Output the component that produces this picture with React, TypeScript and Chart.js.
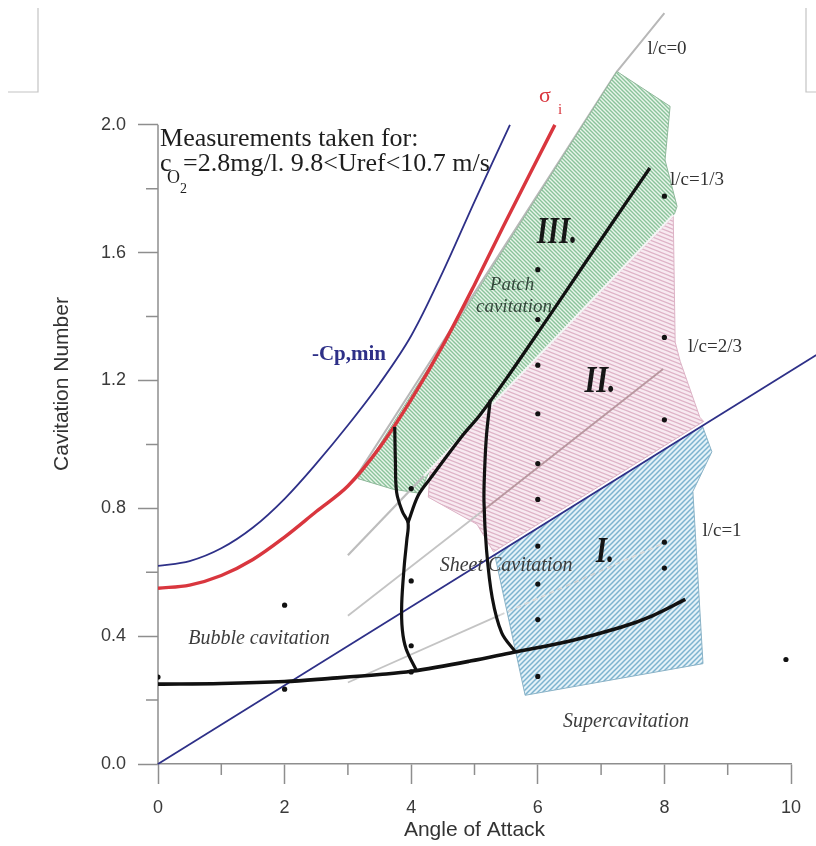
import React, { useEffect, useRef } from 'react';
import { Chart, registerables } from 'chart.js';

Chart.register(...registerables);

// ---------- axes ----------
const X_TICKS = [0, 2, 4, 6, 8, 10];
const X_MINOR = [1, 3, 5, 7, 9];
const Y_TICKS = [0, 0.4, 0.8, 1.2, 1.6, 2.0];
const Y_MINOR = [0.2, 0.6, 1.0, 1.4, 1.8];

// ---------- measured points ----------
const DOT_X = [0, 2, 2, 4, 4, 4, 4, 6, 6, 6, 6, 6, 6, 6, 6, 6, 6, 8, 8, 8, 8, 8, 9.92];
const DOT_Y = [0.272, 0.497, 0.234, 0.862, 0.573, 0.37, 0.288, 1.547, 1.391, 1.248, 1.096, 0.94, 0.828, 0.682, 0.563, 0.452, 0.274, 1.777, 1.335, 1.077, 0.694, 0.613, 0.327];

// -Cp,min curve
const CP_X = [0, 0.5, 1.0, 1.5, 2.0, 2.5, 3.0, 3.5, 4.0, 4.5, 5.0, 5.56];
const CP_Y = [0.62, 0.635, 0.675, 0.74, 0.83, 0.94, 1.06, 1.19, 1.34, 1.54, 1.76, 2.0];

// sigma_i curve
const SIG_X = [0, 0.5, 1.0, 1.5, 2.0, 2.5, 3.0, 3.5, 4.0, 4.5, 5.0, 5.5, 6.27];
const SIG_Y = [0.55, 0.56, 0.59, 0.64, 0.71, 0.79, 0.87, 0.99, 1.14, 1.31, 1.5, 1.7, 2.0];

// straight line from the origin
const ORIG_X = [0, 10.4];
const ORIG_Y = [0, 1.28];

// regime boundaries (black)
const LOW_X = [0, 1, 2, 2.72, 3.5, 4.0, 4.93, 5.62, 6.51, 7.3, 7.8, 8.33];
const LOW_Y = [0.25, 0.252, 0.258, 0.268, 0.28, 0.29, 0.322, 0.35, 0.385, 0.427, 0.463, 0.515];
const LEFT_X = [3.74, 3.75, 3.77, 3.86, 3.95, 3.93, 3.89, 3.85, 3.86, 3.92, 4.09];
const LEFT_Y = [1.055, 0.95, 0.85, 0.79, 0.755, 0.70, 0.62, 0.50, 0.42, 0.36, 0.29];
const DIAG_X = [3.95, 4.11, 4.30, 4.82, 5.09, 5.5, 6.14, 6.67, 7.2, 7.77];
const DIAG_Y = [0.755, 0.84, 0.893, 1.03, 1.093, 1.205, 1.39, 1.545, 1.70, 1.865];
const RIGHT_X = [5.25, 5.19, 5.16, 5.15, 5.19, 5.28, 5.43, 5.64];
const RIGHT_Y = [1.14, 1.03, 0.92, 0.82, 0.67, 0.52, 0.41, 0.352];

// l/c lines
const LC0_X = [3.1, 7.25, 8.0];
const LC0_Y = [0.89, 2.167, 2.35];
const LC13_X = [3.0, 4.2, 8.14];
const LC13_Y = [0.653, 0.901, 1.718];
const LC23_X = [3.0, 5.1, 7.98];
const LC23_Y = [0.464, 0.788, 1.236];
const LC1_X = [3.0, 5.4, 7.98];
const LC1_Y = [0.255, 0.466, 0.69];

// regions
const GREEN_X = [3.16, 7.25, 8.09, 8.01, 8.2, 8.16, 4.3, 4.14, 3.71];
const GREEN_Y = [0.893, 2.167, 2.058, 1.89, 1.745, 1.722, 0.923, 0.847, 0.86];
const PINK_X = [8.14, 8.17, 8.25, 8.56, 8.62, 5.3, 5.04, 4.27, 4.3];
const PINK_Y = [1.714, 1.32, 1.26, 1.085, 1.072, 0.664, 0.75, 0.835, 0.92];
const BLUE_X = [5.32, 8.6, 8.75, 8.45, 8.61, 5.8];
const BLUE_Y = [0.654, 1.058, 0.977, 0.853, 0.314, 0.215];

// ---------- text ----------
const LABELS = [
  { text: '-Cp,min', x: 3.017, y: 1.2825, font: 'bold 21px "Liberation Serif", serif', color: '#2e3088', sx: 1 },
  { text: 'III.', x: 6.303, y: 1.662, font: 'italic bold 38px "Liberation Serif", serif', color: '#161616', sx: 0.75 },
  { text: 'II.', x: 6.983, y: 1.195, font: 'italic bold 38px "Liberation Serif", serif', color: '#161616', sx: 0.8 },
  { text: 'I.', x: 7.062, y: 0.66, font: 'italic bold 36px "Liberation Serif", serif', color: '#161616', sx: 0.8 },
  { text: 'Patch', x: 5.592, y: 1.5, font: 'italic 19px "Liberation Serif", serif', color: '#34473b', sx: 1 },
  { text: 'cavitation', x: 5.624, y: 1.429, font: 'italic 19px "Liberation Serif", serif', color: '#34473b', sx: 1 },
  { text: 'Sheet Cavitation', x: 5.498, y: 0.619, font: 'italic 20px "Liberation Serif", serif', color: '#3c3c3c', sx: 1 },
  { text: 'Bubble cavitation', x: 1.596, y: 0.392, font: 'italic 20px "Liberation Serif", serif', color: '#3c3c3c', sx: 1 },
  { text: 'Supercavitation', x: 7.393, y: 0.131, font: 'italic 20px "Liberation Serif", serif', color: '#3c3c3c', sx: 1 },
  { text: 'l/c=0', x: 8.041, y: 2.238, font: '19px "Liberation Serif", serif', color: '#333', sx: 1 },
  { text: 'l/c=1/3', x: 8.515, y: 1.827, font: '19px "Liberation Serif", serif', color: '#333', sx: 1 },
  { text: 'l/c=2/3', x: 8.799, y: 1.304, font: '19px "Liberation Serif", serif', color: '#333', sx: 1 },
  { text: 'l/c=1', x: 8.91, y: 0.728, font: '19px "Liberation Serif", serif', color: '#333', sx: 1 },
];
const NOTE_LINE1 = 'Measurements taken for:';
const NOTE_C = 'c';
const NOTE_SUB = 'O';
const NOTE_SUBSUB = '2';
const NOTE_REST = '=2.8mg/l. 9.8<Uref<10.7 m/s';
const NOTE_POS = { x: 0.032, y1: 1.933, y2: 1.855 };
const SIGMA_LABEL = { main: 'σ', sub: 'i', x: 6.114, y: 2.089 };

const AXIS_COLOR = '#8e8e8e';
const SERIF = '"Liberation Serif", "Times New Roman", serif';
const SANS = '"Liberation Sans", Arial, sans-serif';

const zip = (xs: number[], ys: number[]) => xs.map((x, i) => ({ x, y: ys[i] }));
const closed = (xs: number[], ys: number[]) => {
  const p = zip(xs, ys);
  p.push({ ...p[0] });
  return p;
};

function hatch(bg: string, fg: string, w: number, h: number, dir: string, lw: number) {
  const c = document.createElement('canvas');
  c.width = w;
  c.height = h;
  const g = c.getContext('2d') as CanvasRenderingContext2D;
  g.fillStyle = bg;
  g.fillRect(0, 0, w, h);
  g.strokeStyle = fg;
  g.lineWidth = lw;
  g.beginPath();
  for (let k = -3; k <= 3; k++) {
    if (dir === '\\') {
      g.moveTo(-w, k * h - h);
      g.lineTo(2 * w, k * h + 2 * h);
    } else {
      g.moveTo(-w, k * h + 2 * h);
      g.lineTo(2 * w, k * h - h);
    }
  }
  g.stroke();
  return g.createPattern(c, 'repeat') as CanvasPattern;
}

const decorPlugin = {
  id: 'decor',
  beforeDatasetsDraw(chart: any) {
    const { ctx } = chart;
    const xs = chart.scales.x;
    const ys = chart.scales.y;
    const x0 = xs.getPixelForValue(0);
    const yb = ys.getPixelForValue(0);
    ctx.save();
    ctx.strokeStyle = AXIS_COLOR;
    ctx.lineWidth = 1.5;
    ctx.beginPath();
    ctx.moveTo(x0, ys.getPixelForValue(Y_TICKS[Y_TICKS.length - 1]));
    ctx.lineTo(x0, yb);
    X_MINOR.forEach((v) => {
      const p = xs.getPixelForValue(v);
      ctx.moveTo(p, yb);
      ctx.lineTo(p, yb + 11);
    });
    Y_MINOR.forEach((v) => {
      const p = ys.getPixelForValue(v);
      ctx.moveTo(x0 - 12, p);
      ctx.lineTo(x0, p);
    });
    ctx.stroke();
    // scan crop marks
    ctx.strokeStyle = '#c4c4c4';
    ctx.lineWidth = 1.2;
    const W = chart.width;
    ctx.beginPath();
    ctx.moveTo(38, 8);
    ctx.lineTo(38, 92);
    ctx.lineTo(8, 92);
    ctx.moveTo(W - 10, 8);
    ctx.lineTo(W - 10, 92);
    ctx.lineTo(W, 92);
    ctx.stroke();
    ctx.restore();
  },
  afterDatasetsDraw(chart: any) {
    const { ctx } = chart;
    const xs = chart.scales.x;
    const ys = chart.scales.y;
    ctx.save();
    ctx.textAlign = 'center';
    ctx.textBaseline = 'middle';
    LABELS.forEach((l) => {
      ctx.save();
      ctx.translate(xs.getPixelForValue(l.x), ys.getPixelForValue(l.y));
      ctx.scale(l.sx, 1);
      ctx.font = l.font;
      ctx.fillStyle = l.color;
      ctx.fillText(l.text, 0, 0);
      ctx.restore();
    });
    // note
    ctx.textAlign = 'left';
    ctx.textBaseline = 'alphabetic';
    ctx.fillStyle = '#1e1e1e';
    ctx.font = `26px ${SERIF}`;
    const nx = xs.getPixelForValue(NOTE_POS.x);
    ctx.fillText(NOTE_LINE1, nx, ys.getPixelForValue(NOTE_POS.y1));
    const b2 = ys.getPixelForValue(NOTE_POS.y2);
    ctx.fillText(NOTE_C, nx, b2);
    ctx.font = `18px ${SERIF}`;
    ctx.fillText(NOTE_SUB, nx + 7, b2 + 12);
    ctx.font = `14px ${SERIF}`;
    ctx.fillText(NOTE_SUBSUB, nx + 20, b2 + 22);
    ctx.font = `26px ${SERIF}`;
    ctx.fillText(NOTE_REST, nx + 23, b2);
    // sigma_i
    ctx.fillStyle = '#d9363e';
    ctx.textAlign = 'center';
    ctx.textBaseline = 'middle';
    const sx = xs.getPixelForValue(SIGMA_LABEL.x);
    const sy = ys.getPixelForValue(SIGMA_LABEL.y);
    ctx.font = `22px ${SERIF}`;
    ctx.fillText(SIGMA_LABEL.main, sx, sy);
    ctx.font = `15px ${SERIF}`;
    ctx.fillText(SIGMA_LABEL.sub, sx + 15, sy + 14);
    ctx.restore();
  },
};

export default function App() {
  const ref = useRef<HTMLCanvasElement | null>(null);

  useEffect(() => {
    if (!ref.current) return;
    const greenPat = hatch('#e9f5eb', '#8ac39a', 4, 4, '\\', 1.4);
    const pinkPat = hatch('#f8eaf1', '#deb3c7', 10, 4, '\\', 1.2);
    const bluePat = hatch('#e4f2f8', '#7db3cf', 5, 5, '/', 1.5);

    const line = (pts: any[], color: string, width: number, order: number, extra: any = {}) => ({
      data: pts,
      borderColor: color,
      borderWidth: width,
      pointRadius: 0,
      fill: false,
      tension: 0.35,
      order,
      ...extra,
    });
    const poly = (pts: any[], pat: CanvasPattern, edge: string) => ({
      data: pts,
      borderColor: edge,
      borderWidth: 1,
      backgroundColor: pat,
      pointRadius: 0,
      tension: 0,
      fill: 'shape',
      order: 6,
    });

    const chart = new Chart(ref.current, {
      type: 'line',
      data: {
        datasets: [
          {
            data: zip(DOT_X, DOT_Y),
            showLine: false,
            pointRadius: 2.6,
            pointBackgroundColor: '#111',
            pointBorderWidth: 0,
            order: 0,
          } as any,
          line(zip(LOW_X, LOW_Y), '#111', 3.6, 1),
          line(zip(LEFT_X, LEFT_Y), '#111', 3.2, 1),
          line(zip(DIAG_X, DIAG_Y), '#111', 3.2, 1),
          line(zip(RIGHT_X, RIGHT_Y), '#111', 3.2, 1),
          line(zip(ORIG_X, ORIG_Y), '#2e3088', 1.8, 2, { tension: 0, clip: false }),
          line(zip(CP_X, CP_Y), '#2e3088', 1.8, 2),
          line(zip(SIG_X, SIG_Y), '#d9363e', 3.4, 2),
          line(zip(LC13_X, LC13_Y), '#bdbdbd', 2.2, 3, {
            tension: 0,
            segment: { borderColor: (c: any) => (c.p0.parsed.x >= 4.19 ? '#f4f4f4' : undefined) },
          }),
          line(zip(LC23_X, LC23_Y), '#c4c4c4', 1.8, 3, {
            tension: 0,
            segment: { borderColor: (c: any) => (c.p0.parsed.x >= 5.09 ? '#b8979f' : undefined) },
          }),
          line(zip(LC1_X, LC1_Y), '#c4c4c4', 1.8, 3, {
            tension: 0,
            segment: {
              borderColor: (c: any) => (c.p0.parsed.x >= 5.39 ? '#d6d6d6' : undefined),
              borderDash: (c: any) => (c.p0.parsed.x >= 5.39 ? [5, 4] : undefined),
            },
          }),
          poly(closed(GREEN_X, GREEN_Y), greenPat, '#8fb89a'),
          poly(closed(PINK_X, PINK_Y), pinkPat, '#dcb2c5'),
          poly(closed(BLUE_X, BLUE_Y), bluePat, '#8ab2c6'),
          line(zip(LC0_X, LC0_Y), '#b8b8b8', 2, 8, { tension: 0, clip: false }),
        ],
      },
      options: {
        responsive: false,
        animation: false,
        events: [],
        layout: { padding: { left: 0, right: 25, top: 0, bottom: 0 } },
        plugins: { legend: { display: false }, tooltip: { enabled: false } },
        scales: {
          x: {
            type: 'linear',
            min: 0,
            max: 10,
            afterBuildTicks: (s: any) => {
              s.ticks = X_TICKS.map((v) => ({ value: v }));
            },
            afterFit: (s: any) => {
              s.height = 82;
              s.paddingLeft = 0;
              s.paddingRight = 0;
            },
            ticks: {
              autoSkip: false,
              maxRotation: 0,
              padding: 13,
              color: '#3a3a3a',
              font: { family: SANS, size: 18 },
              callback: (v: any) => String(v),
            },
            grid: { drawOnChartArea: false, drawTicks: true, tickLength: 20, color: AXIS_COLOR, tickWidth: 1.5 },
            border: { display: true, color: AXIS_COLOR, width: 1.5 },
            title: {
              display: true,
              text: 'Angle of Attack',
              color: '#333',
              font: { family: SANS, size: 21 },
              padding: { top: 0, bottom: 3 },
            },
          },
          y: {
            type: 'linear',
            min: 0,
            max: 764 / 321.25,
            afterBuildTicks: (s: any) => {
              s.ticks = Y_TICKS.map((v) => ({ value: v }));
            },
            afterFit: (s: any) => {
              s.width = 158;
              s.paddingTop = 0;
              s.paddingBottom = 0;
            },
            ticks: {
              padding: 12,
              color: '#3a3a3a',
              font: { family: SANS, size: 18 },
              callback: (v: any) => Number(v).toFixed(1),
            },
            grid: { drawOnChartArea: false, drawTicks: true, tickLength: 20, color: AXIS_COLOR, tickWidth: 1.5 },
            border: { display: false },
            title: {
              display: true,
              text: 'Cavitation Number',
              color: '#333',
              font: { family: SANS, size: 21 },
              padding: { top: 50, bottom: 0 },
            },
          },
        },
      } as any,
      plugins: [decorPlugin],
    });
    return () => chart.destroy();
  }, []);

  return (
    <div style={{ position: 'fixed', left: 0, top: 0, width: 816, height: 846, background: '#fff' }}>
      <canvas ref={ref} width={816} height={846} style={{ display: 'block' }} />
    </div>
  );
}
